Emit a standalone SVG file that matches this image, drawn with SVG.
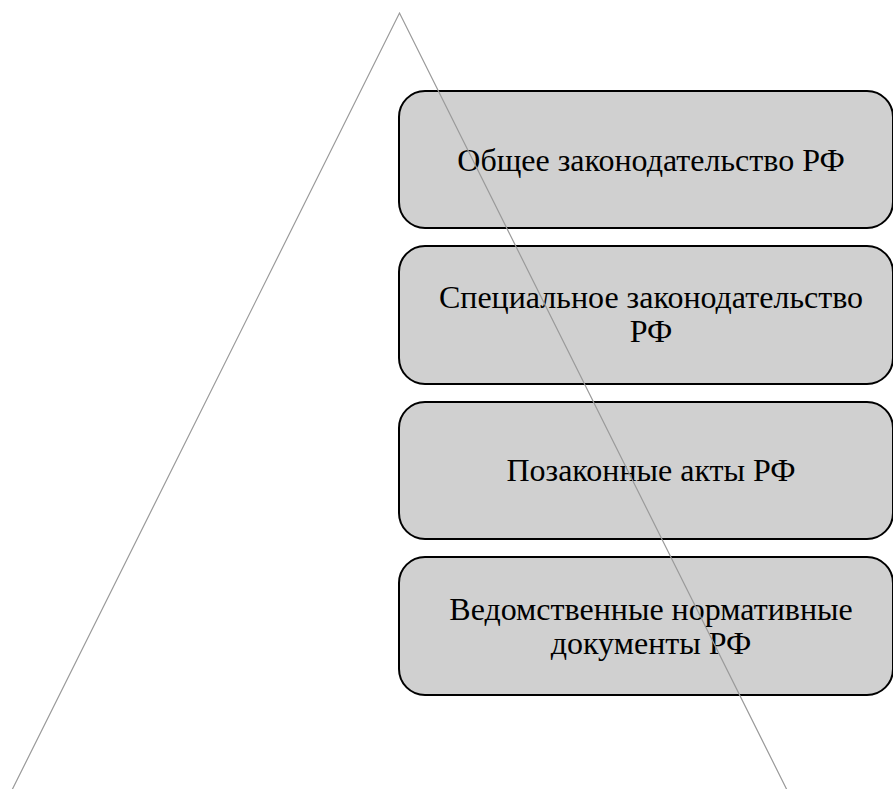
<svg xmlns="http://www.w3.org/2000/svg" width="893" height="789" viewBox="0 0 893 789">
<style>
.box{fill:#d0d0d0;stroke:#000;stroke-width:2}
.lbl{font-family:"Liberation Serif","Times New Roman","DejaVu Serif",serif;font-size:32px;fill:#000;text-anchor:middle}
.edge{fill:none;stroke:#9a9a9a;stroke-width:1.2}
</style>
<rect width="893" height="789" fill="#fff"/>
<g id="n1"><rect class="box" x="399" y="91" width="494" height="137" rx="26"/><text class="lbl" x="651" y="171">Общее законодательство РФ</text></g>
<g id="n2"><rect class="box" x="399" y="246" width="494" height="138" rx="26"/><text class="lbl" x="651" y="308">Специальное законодательство</text><text class="lbl" x="651" y="342">РФ</text></g>
<g id="n3"><rect class="box" x="399" y="402" width="494" height="137" rx="26"/><text class="lbl" x="651" y="481">Позаконные акты РФ</text></g>
<g id="n4"><rect class="box" x="399" y="557" width="494" height="138" rx="26"/><text class="lbl" x="651" y="620">Ведомственные нормативные</text><text class="lbl" x="651" y="654">документы РФ</text></g>
<g id="connectors"><polyline class="edge" points="12,790 399.5,13 787,790"/></g>
</svg>
